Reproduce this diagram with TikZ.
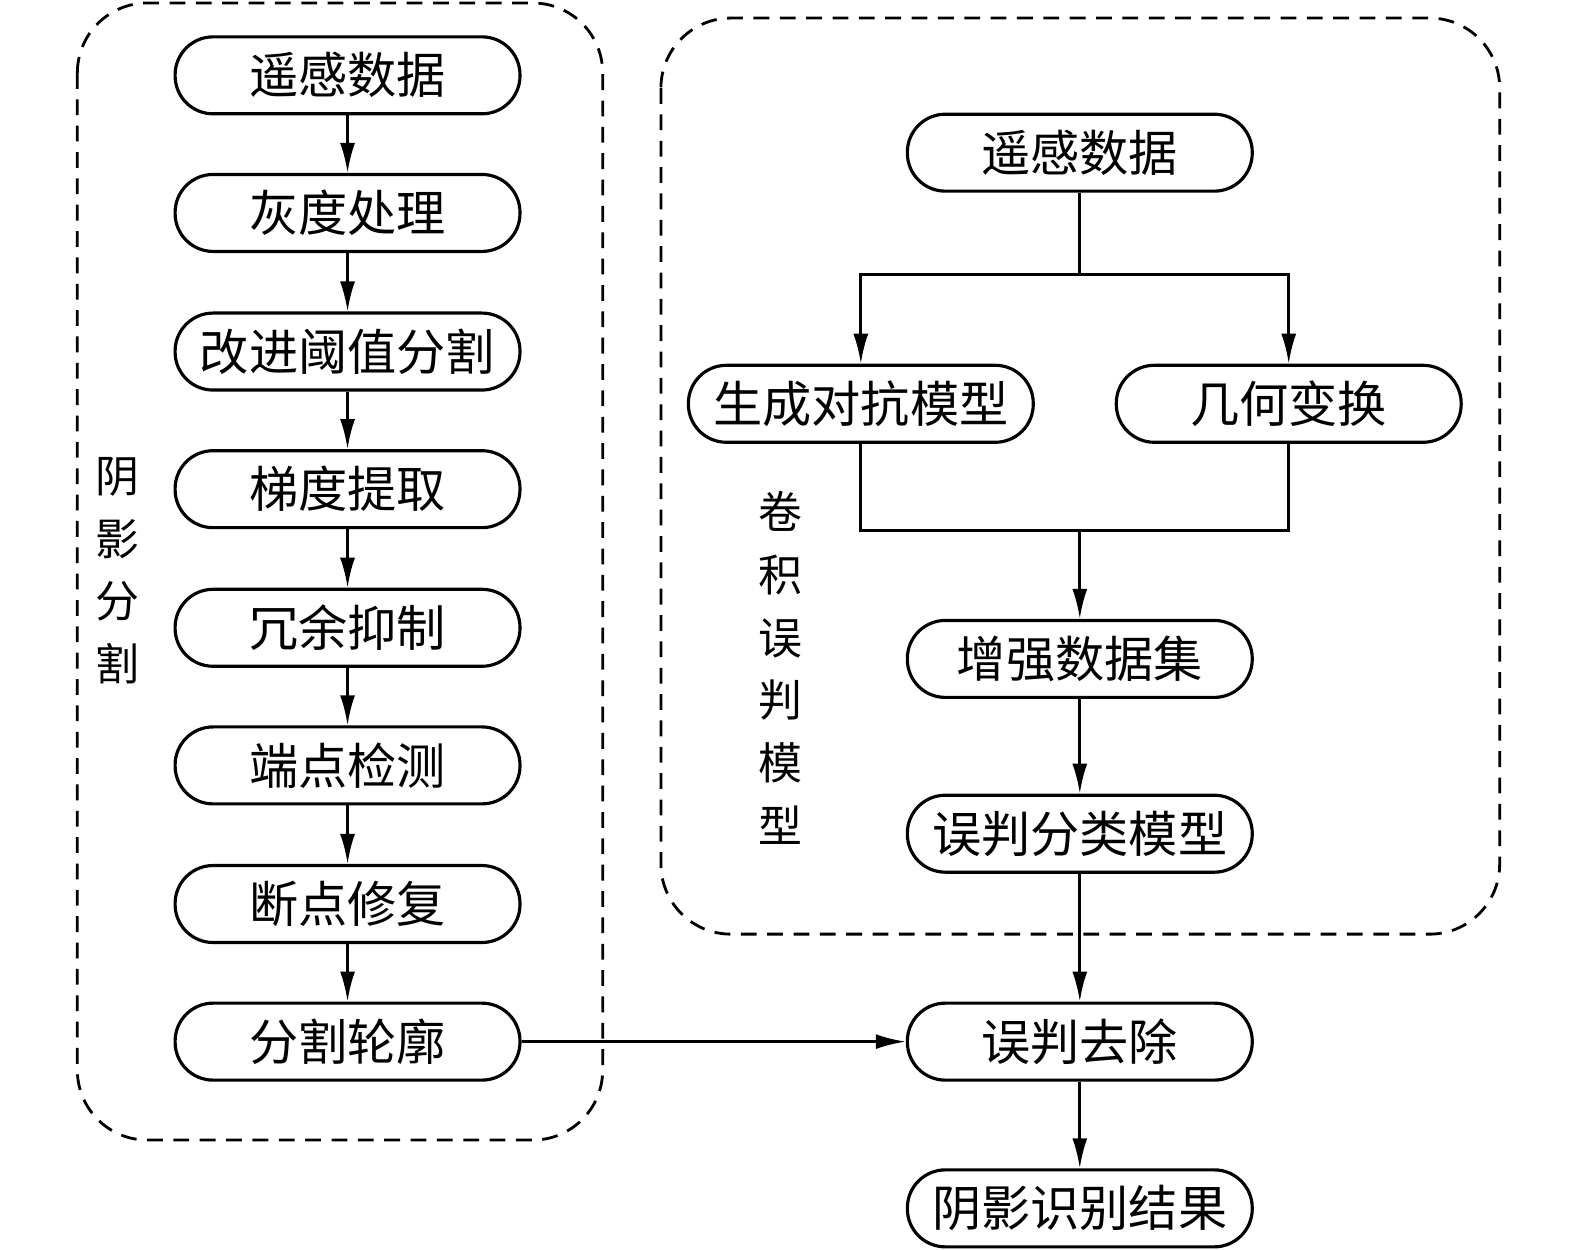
\documentclass[tikz,border=0pt]{standalone}
\usepackage{fontspec}
\setmainfont{Noto Sans CJK SC}
\usetikzlibrary{arrows.meta}
\begin{document}
\begin{tikzpicture}[x=0.02009cm,y=-0.02009cm,
    stepbox/.style={draw,line width=1.8pt,rounded corners=0.76cm,minimum width=6.9cm,minimum height=1.54cm,inner sep=0pt,font=\fontsize{28}{30}\selectfont},
    grp/.style={draw,line width=1.6pt,dash pattern=on 9pt off 6pt,rounded corners=1.4cm},
    arr/.style={line width=1.6pt,-{Latex[length=0.6cm,width=0.3cm]}},
    ln/.style={line width=1.6pt},
    side/.style={font=\fontsize{25}{30}\selectfont,align=center}]
    \useasboundingbox (0,0) rectangle (1568,1244);
    % dashed groups
    \draw[grp] (77,3) rectangle (600,1135);
    \draw[grp] (658,18) rectangle (1493,930);
    \node[side] (segl) at (117,568) {阴\\[0.2cm]影\\[0.2cm]分\\[0.2cm]割};
    \node[side] (cnnl) at (777,665) {卷\\[0.2cm]积\\[0.2cm]误\\[0.2cm]判\\[0.2cm]模\\[0.2cm]型};
    % left column
    \node[stepbox] (l1) at (346,75) {遥感数据};
    \node[stepbox] (l2) at (346,212) {灰度处理};
    \node[stepbox] (l3) at (346,350) {改进阈值分割};
    \node[stepbox] (l4) at (346,487) {梯度提取};
    \node[stepbox] (l5) at (346,625) {冗余抑制};
    \node[stepbox] (l6) at (346,762) {端点检测};
    \node[stepbox] (l7) at (346,900) {断点修复};
    \node[stepbox] (l8) at (346,1037) {分割轮廓};
    \foreach \a/\b in {l1/l2,l2/l3,l3/l4,l4/l5,l5/l6,l6/l7,l7/l8}
        \draw[arr] (\a) -- (\b);
    % right column
    \node[stepbox] (r1) at (1075,152) {遥感数据};
    \node[stepbox] (gan) at (857,402) {生成对抗模型};
    \node[stepbox] (geo) at (1283,402) {几何变换};
    \node[stepbox] (r2) at (1075,656) {增强数据集};
    \node[stepbox] (r3) at (1075,830) {误判分类模型};
    \node[stepbox] (r4) at (1075,1037) {误判去除};
    \node[stepbox] (r5) at (1075,1203) {阴影识别结果};
    \coordinate (split) at (1075,273);
    \coordinate (merge) at (1075,528);
    \draw[ln] (r1) -- (split);
    \draw[arr] (split) -| (gan);
    \draw[arr] (split) -| (geo);
    \draw[ln] (gan) |- (merge);
    \draw[ln] (geo) |- (merge);
    \draw[arr] (merge) -- (r2);
    \draw[arr] (r2) -- (r3);
    \draw[arr] (r3) -- (r4);
    \draw[arr] (r4) -- (r5);
    \draw[arr] (l8) -- (r4);
\end{tikzpicture}
\end{document}
